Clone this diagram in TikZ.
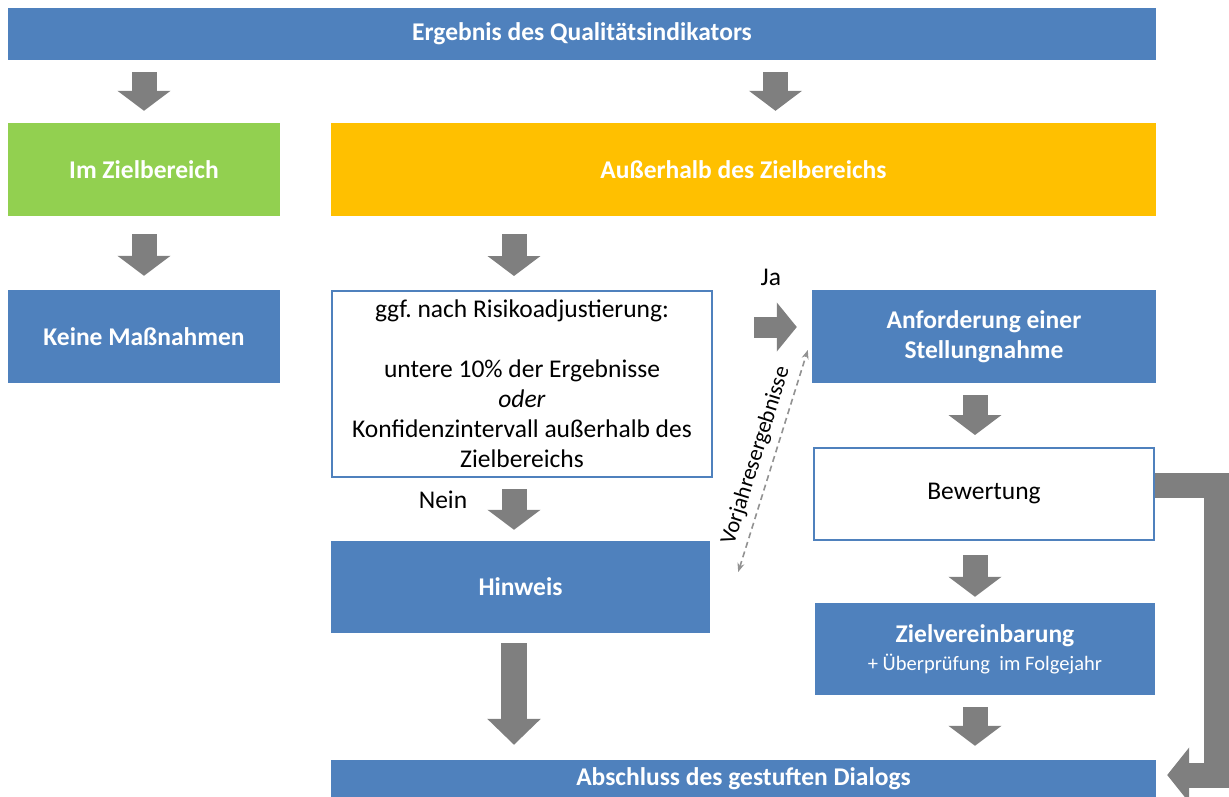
\documentclass[tikz,border=0pt]{standalone}
\usepackage{fontspec}
\setmainfont{Carlito}
\usetikzlibrary{calc,arrows.meta}

\definecolor{qiblue}{HTML}{4F81BD}
\definecolor{qigreen}{HTML}{92D050}
\definecolor{qiorange}{HTML}{FFC000}
\definecolor{qigray}{HTML}{7F7F7F}

\newcommand{\labelfont}{\fontsize{25.5}{30}\selectfont}
\newcommand{\smallfont}{\fontsize{20.5}{24}\selectfont}
\frenchspacing

\tikzset{
    box/.style={rectangle, inner sep=0pt, align=center, font=\labelfont},
    bluebox/.style={box, fill=qiblue, text=white, font=\bfseries\labelfont},
    greenbox/.style={bluebox, fill=qigreen},
    orangebox/.style={bluebox, fill=qiorange},
    whitebox/.style={box, draw=qiblue, line width=2pt, fill=white, text=black},
    blockarrow/.style={draw=qigray, line width=25pt, line cap=butt,
        -{Triangle[length=20pt,width=52pt]}},
    dasharrow/.style={draw=qigray!85, line width=1.6pt, dash pattern=on 6pt off 4pt,
        {Stealth[length=9pt,width=7pt]}-{Stealth[length=9pt,width=7pt]}}
}

\begin{document}
\begin{tikzpicture}[x=1pt,y=-1pt]
    \useasboundingbox (0,0) rectangle (1229,796);

    \node[bluebox, minimum width=1148pt, minimum height=52pt] (top) at (582,34) {Ergebnis des Qualitätsindikators};
    \node[greenbox, minimum width=272pt, minimum height=93pt] (inZiel) at (144,169.5) {Im Zielbereich};
    \node[orangebox, minimum width=825pt, minimum height=93pt] (ausser) at (743.5,169.5) {Außerhalb des Zielbereichs};
    \node[bluebox, minimum width=272pt, minimum height=93pt] (keine) at (144,336.5) {Keine Maßnahmen};
    \node[whitebox, minimum width=380pt, minimum height=186pt] (krit) at (522,384)
        {ggf. nach Risikoadjustierung:\\[30pt]
         untere 10\% der Ergebnisse\\
         \textit{oder}\\
         Konfidenzintervall außerhalb des\\
         Zielbereichs};
    \node[bluebox, minimum width=344pt, minimum height=93pt] (anford) at (984,336.5) {Anforderung einer\\Stellungnahme};
    \node[whitebox, minimum width=340pt, minimum height=92pt] (bewert) at (984,494) {Bewertung};
    \node[bluebox, minimum width=379pt, minimum height=92pt] (hinweis) at (520.5,587) {Hinweis};
    \node[bluebox, minimum width=340pt, minimum height=92pt] (zielver) at (985,649)
        {Zielvereinbarung\\[-2pt]{\mdseries\smallfont + Überprüfung\ \ im Folgejahr}};
    \node[bluebox, minimum width=825pt, minimum height=38pt] (abschluss) at (743.5,779) {Abschluss des gestuften Dialogs};

    \node[font=\labelfont] (ja) at ($(anford.west)+(-41,-59.5)$) {Ja};
    \node[font=\labelfont] (nein) at ($(krit.south)+(-79,22)$) {Nein};

    \draw[blockarrow] ($(top.south -| inZiel.north)+(0,12)$) -- ($(inZiel.north)+(0,-12)$);
    \draw[blockarrow] ($(top.south -| ausser.north)+(32,12)$) -- ($(ausser.north)+(32,-12)$);
    \draw[blockarrow] ($(inZiel.south)+(0,18)$) -- ($(keine.north)+(0,-14)$);
    \draw[blockarrow] ($(ausser.south -| krit.north)+(-8,18)$) -- ($(krit.north)+(-8,-14)$);
    \draw[blockarrow] ($(krit.south)+(-8,11)$) -- ($(hinweis.north -| krit.south)+(-8,-11)$);
    \draw[blockarrow, line width=21pt, -{Triangle[length=20pt,width=48pt]}]
        ($(krit.east |- anford.west)+(41,-9.5)$) -- ($(anford.west)+(-15,-9.5)$);
    \draw[blockarrow] ($(anford.south)+(-9,12)$) -- ($(bewert.north)+(-9,-12)$);
    \draw[blockarrow] ($(bewert.south)+(-9,14)$) -- ($(zielver.north)+(-10,-6)$);
    \draw[blockarrow, line width=26pt, -{Triangle[length=26pt,width=52pt]}]
        ($(hinweis.south)+(-6.5,10)$) -- ($(abschluss.north -| hinweis.south)+(-6.5,-15)$);
    \draw[blockarrow] ($(zielver.south)+(-10,12)$) -- ($(abschluss.north -| zielver.south)+(-10,-14)$);
    \draw[blockarrow, line join=miter, -{Triangle[length=22pt,width=54pt]}]
        ($(bewert.east)+(0,-9)$) -- ++(61,0) |- ($(abschluss.east)+(11,-4)$);

    \coordinate (vjTop) at ($(anford.west)+(-4,13.5)$);
    \coordinate (vjBot) at ($(hinweis.east)+(28,-15)$);
    \draw[dasharrow] (vjBot) -- node[sloped, above=4pt, font=\fontsize{22.5}{26}\selectfont] (vj) {Vorjahresergebnisse} (vjTop);
\end{tikzpicture}
\end{document}
